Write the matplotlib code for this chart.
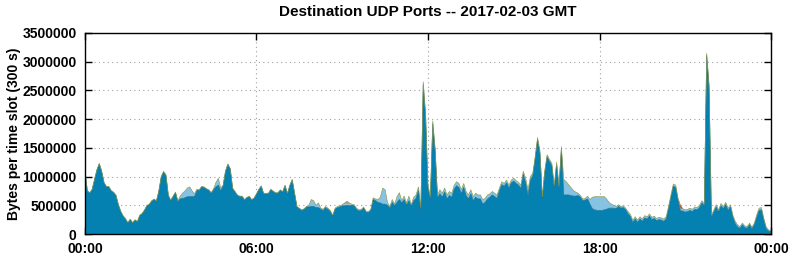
#!/usr/bin/env python3
"""Destination UDP ports, stacked bytes per 300 s slot over one day."""

import numpy as np
import matplotlib

matplotlib.use("Agg")
import matplotlib.pyplot as plt
from matplotlib.ticker import FixedLocator, FuncFormatter

plt.rcParams["font.family"] = ["Liberation Sans", "DejaVu Sans"]

TITLE = "Destination UDP Ports -- 2017-02-03 GMT"
YLABEL = "Bytes per time slot (300 s)"
SLOT_MINUTES = 5
XTICK_HOURS = [0, 6, 12, 18, 24]
XTICK_LABELS = ["00:00", "06:00", "12:00", "18:00", "00:00"]
YTICKS = [0, 500000, 1000000, 1500000, 2000000, 2500000, 3000000, 3500000]

# total bytes per slot, millions, one row per hour (12 slots of 5 min)
total_mb = [
    [1.10, 0.76, 0.72, 0.78, 0.95, 1.12, 1.23, 1.10, 0.90, 0.83, 0.83, 0.76],
    [0.73, 0.68, 0.52, 0.40, 0.32, 0.27, 0.20, 0.26, 0.20, 0.25, 0.22, 0.33],
    [0.36, 0.42, 0.50, 0.52, 0.58, 0.61, 0.58, 0.75, 1.00, 1.09, 1.03, 0.68],
    [0.59, 0.66, 0.73, 0.57, 0.66, 0.71, 0.75, 0.80, 0.82, 0.75, 0.70, 0.78],
    [0.77, 0.83, 0.82, 0.79, 0.77, 0.72, 0.79, 0.90, 0.97, 0.80, 0.85, 1.10],
    [1.22, 1.14, 0.80, 0.74, 0.68, 0.66, 0.66, 0.60, 0.64, 0.66, 0.60, 0.63],
    [0.70, 0.78, 0.84, 0.71, 0.71, 0.71, 0.78, 0.75, 0.72, 0.72, 0.77, 0.74],
    [0.85, 0.71, 0.85, 0.95, 0.72, 0.48, 0.45, 0.42, 0.44, 0.48, 0.50, 0.60],
    [0.58, 0.50, 0.54, 0.45, 0.43, 0.48, 0.45, 0.41, 0.33, 0.45, 0.48, 0.49],
    [0.51, 0.54, 0.57, 0.54, 0.52, 0.51, 0.45, 0.42, 0.43, 0.47, 0.40, 0.39],
    [0.43, 0.63, 0.61, 0.60, 0.64, 0.80, 0.77, 0.55, 0.48, 0.60, 0.52, 0.65],
    [0.72, 0.58, 0.66, 0.54, 0.66, 0.51, 0.64, 0.68, 0.82, 0.45, 2.65, 2.10],
    [0.85, 0.66, 1.97, 1.50, 0.68, 0.77, 0.71, 0.80, 0.68, 0.74, 0.71, 0.85],
    [0.91, 0.88, 0.77, 0.88, 0.74, 0.68, 0.77, 0.65, 0.71, 0.68, 0.68, 0.60],
    [0.62, 0.68, 0.70, 0.74, 0.71, 0.68, 0.80, 0.91, 0.88, 0.94, 0.85, 0.94],
    [0.97, 0.93, 0.90, 0.85, 1.09, 0.97, 0.77, 1.00, 1.06, 1.35, 1.68, 1.45],
    [0.65, 1.10, 1.38, 1.30, 1.23, 0.85, 1.25, 0.85, 1.52, 0.95, 0.91, 0.86],
    [0.81, 0.76, 0.73, 0.71, 0.67, 0.61, 0.62, 0.66, 0.60, 0.64, 0.65, 0.65],
    [0.65, 0.65, 0.65, 0.61, 0.55, 0.52, 0.50, 0.48, 0.51, 0.48, 0.49, 0.45],
    [0.39, 0.34, 0.24, 0.30, 0.24, 0.30, 0.26, 0.32, 0.30, 0.35, 0.29, 0.31],
    [0.27, 0.29, 0.28, 0.26, 0.30, 0.48, 0.68, 0.87, 0.85, 0.62, 0.50, 0.44],
    [0.42, 0.43, 0.45, 0.43, 0.47, 0.46, 0.50, 0.58, 0.53, 3.15, 2.60, 0.33],
    [0.42, 0.51, 0.42, 0.53, 0.48, 0.55, 0.45, 0.51, 0.33, 0.22, 0.16, 0.13],
    [0.19, 0.14, 0.13, 0.19, 0.12, 0.19, 0.33, 0.45, 0.46, 0.27, 0.12, 0.07],
    [0.06],
]

# second port (light blue layer), millions
light_mb = [
    [0.01, 0.01, 0.01, 0.01, 0.01, 0.01, 0.01, 0.01, 0.01, 0.01, 0.01, 0.01],
    [0.01, 0.01, 0.01, 0.01, 0.01, 0.01, 0.01, 0.01, 0.01, 0.01, 0.01, 0.01],
    [0.01, 0.01, 0.01, 0.01, 0.01, 0.01, 0.01, 0.01, 0.01, 0.01, 0.01, 0.01],
    [0.01, 0.01, 0.01, 0.00, 0.05, 0.09, 0.12, 0.15, 0.17, 0.10, 0.05, 0.02],
    [0.01, 0.01, 0.01, 0.01, 0.01, 0.01, 0.02, 0.08, 0.12, 0.05, 0.01, 0.01],
    [0.01, 0.01, 0.01, 0.01, 0.01, 0.01, 0.01, 0.01, 0.01, 0.01, 0.01, 0.01],
    [0.01, 0.01, 0.01, 0.01, 0.01, 0.01, 0.01, 0.01, 0.01, 0.01, 0.01, 0.01],
    [0.01, 0.01, 0.01, 0.01, 0.01, 0.01, 0.01, 0.01, 0.01, 0.01, 0.03, 0.12],
    [0.10, 0.04, 0.08, 0.02, 0.02, 0.02, 0.02, 0.02, 0.02, 0.02, 0.02, 0.02],
    [0.02, 0.02, 0.02, 0.02, 0.02, 0.02, 0.02, 0.02, 0.02, 0.02, 0.02, 0.02],
    [0.02, 0.03, 0.03, 0.05, 0.10, 0.28, 0.25, 0.05, 0.03, 0.05, 0.03, 0.10],
    [0.12, 0.04, 0.06, 0.04, 0.08, 0.03, 0.06, 0.06, 0.06, 0.04, 0.05, 0.05],
    [0.05, 0.06, 0.05, 0.05, 0.06, 0.07, 0.07, 0.07, 0.07, 0.07, 0.07, 0.07],
    [0.07, 0.07, 0.07, 0.07, 0.07, 0.07, 0.07, 0.07, 0.07, 0.07, 0.07, 0.08],
    [0.07, 0.07, 0.06, 0.06, 0.06, 0.06, 0.05, 0.05, 0.05, 0.05, 0.05, 0.05],
    [0.05, 0.05, 0.05, 0.06, 0.05, 0.08, 0.10, 0.06, 0.05, 0.04, 0.04, 0.04],
    [0.03, 0.04, 0.04, 0.04, 0.04, 0.05, 0.04, 0.05, 0.04, 0.27, 0.23, 0.18],
    [0.14, 0.10, 0.07, 0.04, 0.03, 0.03, 0.03, 0.05, 0.08, 0.20, 0.23, 0.24],
    [0.24, 0.24, 0.23, 0.18, 0.10, 0.07, 0.05, 0.04, 0.03, 0.03, 0.03, 0.03],
    [0.04, 0.04, 0.04, 0.04, 0.04, 0.04, 0.04, 0.04, 0.04, 0.04, 0.04, 0.04],
    [0.04, 0.04, 0.04, 0.04, 0.04, 0.04, 0.04, 0.04, 0.04, 0.04, 0.04, 0.04],
    [0.04, 0.04, 0.04, 0.04, 0.04, 0.04, 0.04, 0.04, 0.04, 0.04, 0.04, 0.04],
    [0.04, 0.04, 0.04, 0.04, 0.04, 0.04, 0.04, 0.04, 0.04, 0.04, 0.04, 0.03],
    [0.03, 0.03, 0.03, 0.03, 0.03, 0.03, 0.04, 0.04, 0.04, 0.03, 0.03, 0.02],
    [0.02],
]

# small bumps of other ports, keyed by minute of day, millions
gray_bumps = {545: 0.03, 550: 0.05, 555: 0.03}
red_bumps = {1250: 0.06}

DARK_BLUE = "#0481b1"
DARK_EDGE = "#0b6f95"
LIGHT_BLUE = "#86c2e2"
GRAY = "#a4a4a4"
RED = "#c4402c"
OLIVE = "#8d9a4a"


def flatten(rows):
    return np.array([v for row in rows for v in row]) * 1e6


def bumps_to_series(bumps, n):
    out = np.zeros(n)
    for minute, value in bumps.items():
        out[minute // SLOT_MINUTES] = value * 1e6
    return out


def main():
    total = flatten(total_mb)
    light = flatten(light_mb)
    n = len(total)
    gray = bumps_to_series(gray_bumps, n)
    red = bumps_to_series(red_bumps, n)
    dark = np.clip(total - light - gray - red, 0, None)
    hours = np.arange(n) * SLOT_MINUTES / 60.0

    fig = plt.figure(figsize=(7.92, 2.59), dpi=100)
    ax = fig.add_axes([0.1073, 0.0965, 0.8662, 0.7761])

    ax.stackplot(hours, dark, light, gray, red,
                 colors=[DARK_BLUE, LIGHT_BLUE, GRAY, RED], linewidth=0, zorder=2)
    ax.plot(hours, dark, color=DARK_EDGE, linewidth=0.5, zorder=3)
    ax.plot(hours, total, color=OLIVE, linewidth=0.45, zorder=3)

    ax.set_xlim(0, 24)
    ax.set_ylim(0, 3500000)
    ax.xaxis.set_major_locator(FixedLocator(XTICK_HOURS))
    ax.set_xticklabels(XTICK_LABELS)
    ax.yaxis.set_major_locator(FixedLocator(YTICKS))
    ax.yaxis.set_major_formatter(FuncFormatter(lambda v, _: f"{int(v)}"))

    ax.grid(True, color="#a0a0a0", linestyle=(0, (1, 3)), linewidth=0.8, zorder=1)
    ax.set_axisbelow(True)
    ax.tick_params(direction="in", length=5, width=1, top=True, right=True,
                   labelsize=10, pad=6, colors="black")
    for label in ax.get_xticklabels() + ax.get_yticklabels():
        label.set_fontweight("bold")
    for spine in ax.spines.values():
        spine.set_linewidth(1.0)
        spine.set_zorder(5)

    ax.set_ylabel(YLABEL, fontsize=10, fontweight="bold", labelpad=1)
    fig.text(0.54, 0.955, TITLE, ha="center", va="center",
             fontsize=11, fontweight="bold")

    fig.savefig("out.png", dpi=100)
    plt.close(fig)


if __name__ == "__main__":
    main()
